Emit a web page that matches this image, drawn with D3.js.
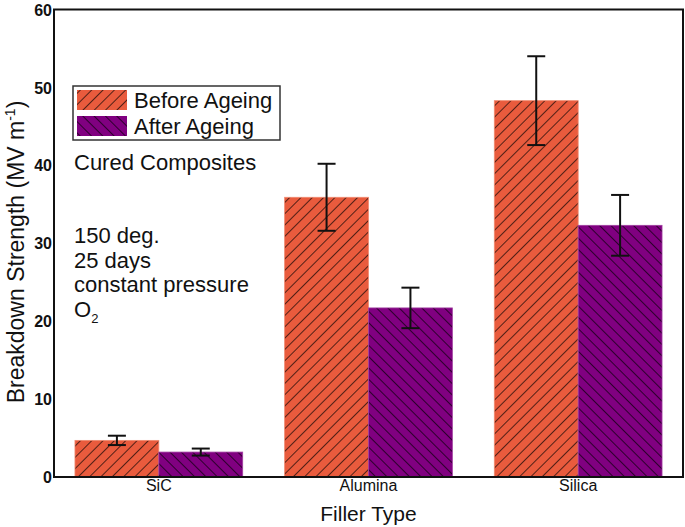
<!DOCTYPE html>
<html><head><meta charset="utf-8">
<script src="https://cdn.jsdelivr.net/npm/d3@7"></script>
<style>body{margin:0;background:#fff}svg{display:block;font-family:"Liberation Sans",Arial,sans-serif}</style>
</head><body>
<script>
const categories = ["SiC", "Alumina", "Silica"];
const seriesNames = ["Before Ageing", "After Ageing"];
const beforeValues = [4.7, 35.9, 48.3];
const beforeErrors = [0.6, 4.3, 5.7];
const afterValues = [3.2, 21.7, 32.3];
const afterErrors = [0.45, 2.6, 3.9];
const yTicks = [0, 10, 20, 30, 40, 50, 60];
const notes = ["150 deg.", "25 days", "constant pressure"];

const W = 685, H = 527;
const m = {left: 54, right: 2, top: 9.5, bottom: 50};
const svg = d3.select("body").append("svg").attr("width", W).attr("height", H);

const colors = ["#E95B3D", "#800080"];
const defs = svg.append("defs");
function hatch(id, angle, color) {
  const p = defs.append("pattern").attr("id", id).attr("patternUnits", "userSpaceOnUse")
    .attr("width", 8).attr("height", 8).attr("patternTransform", `rotate(${angle})`);
  p.append("rect").attr("width", 8).attr("height", 8).attr("fill", color);
  p.append("line").attr("x1", 0).attr("y1", 0).attr("x2", 0).attr("y2", 8)
    .attr("stroke", "#000").attr("stroke-width", 1.3);
}
hatch("h0", 45, colors[0]);
hatch("h1", -45, colors[1]);

const x = d3.scaleBand().domain(categories).range([m.left, W - m.right]).paddingInner(0.2).paddingOuter(0.1);
const xs = d3.scaleBand().domain([0, 1]).range([0, x.bandwidth()]);
const y = d3.scaleLinear().domain([0, 60]).range([H - m.bottom, m.top]);

const data = [
  categories.map((c, i) => ({c, v: beforeValues[i], e: beforeErrors[i]})),
  categories.map((c, i) => ({c, v: afterValues[i], e: afterErrors[i]}))
];

data.forEach((ser, s) => {
  svg.append("g").selectAll("rect").data(ser).join("rect")
    .attr("x", d => x(d.c) + xs(s)).attr("width", xs.bandwidth())
    .attr("y", d => y(d.v)).attr("height", d => y(0) - y(d.v))
    .attr("fill", `url(#h${s})`)
    .attr("stroke", s === 0 ? "#f08a70" : "#a040a0").attr("stroke-width", 0.8);
});
data.forEach((ser, s) => {
  const g = svg.append("g").attr("stroke", "#111").attr("stroke-width", 2);
  ser.forEach(d => {
    const cx = x(d.c) + xs(s) + xs.bandwidth() / 2;
    g.append("line").attr("x1", cx).attr("x2", cx).attr("y1", y(d.v + d.e)).attr("y2", y(d.v - d.e));
    [d.v + d.e, d.v - d.e].forEach(v => g.append("line").attr("x1", cx - 9).attr("x2", cx + 9).attr("y1", y(v)).attr("y2", y(v)));
  });
});

// frame
svg.append("rect").attr("x", m.left).attr("y", m.top).attr("width", W - m.right - m.left)
  .attr("height", y(0) - m.top).attr("fill", "none").attr("stroke", "#111").attr("stroke-width", 2);

// axes
const ya = svg.append("g").attr("transform", `translate(${m.left},0)`)
  .call(d3.axisLeft(y).tickValues(yTicks).tickSize(0).tickPadding(2));
ya.select(".domain").remove();
ya.selectAll("text").attr("font-size", 16).attr("fill", "#111").attr("font-family", "Liberation Sans, Arial, sans-serif").attr("font-weight", "bold").attr("dy", "0.35em");

const xa = svg.append("g").attr("transform", `translate(0,${y(0)})`)
  .call(d3.axisBottom(x).tickSize(0).tickPadding(3));
xa.select(".domain").remove();
xa.selectAll("text").attr("font-size", 16).attr("fill", "#111").attr("font-family", "Liberation Sans, Arial, sans-serif").attr("dy", "0.71em");

svg.append("text").attr("x", (m.left + W - m.right) / 2).attr("y", 521).attr("text-anchor", "middle")
  .attr("font-size", 21).attr("fill", "#111").text("Filler Type");

const yt = svg.append("text").attr("transform", "translate(24,252) rotate(-90)").attr("text-anchor", "middle")
  .attr("font-size", 23).attr("fill", "#111");
yt.append("tspan").text("Breakdown Strength (MV m");
yt.append("tspan").attr("font-size", 14).attr("dy", -9).text("-1");
yt.append("tspan").attr("dy", 9).text(")");

// legend
const lg = svg.append("g");
lg.append("rect").attr("x", 73).attr("y", 86).attr("width", 207).attr("height", 54)
  .attr("fill", "#fff").attr("stroke", "#333").attr("stroke-width", 1.5);
seriesNames.forEach((n, i) => {
  lg.append("rect").attr("x", 77).attr("y", 90 + i * 26).attr("width", 50).attr("height", 20)
    .attr("fill", `url(#h${i})`);
  lg.append("text").attr("x", 134).attr("y", 108 + i * 26).attr("font-size", 22).attr("fill", "#111").text(n);
});

svg.append("text").attr("x", 74).attr("y", 170).attr("font-size", 22).attr("fill", "#111").text("Cured Composites");
notes.forEach((t, i) => svg.append("text").attr("x", 74).attr("y", 243 + i * 24.5).attr("font-size", 22).attr("fill", "#111").text(t));
const o2 = svg.append("text").attr("x", 74).attr("y", 317).attr("font-size", 22).attr("fill", "#111");
o2.append("tspan").text("O");
o2.append("tspan").attr("font-size", 13).attr("dy", 6).text("2");
</script>
</body></html>
